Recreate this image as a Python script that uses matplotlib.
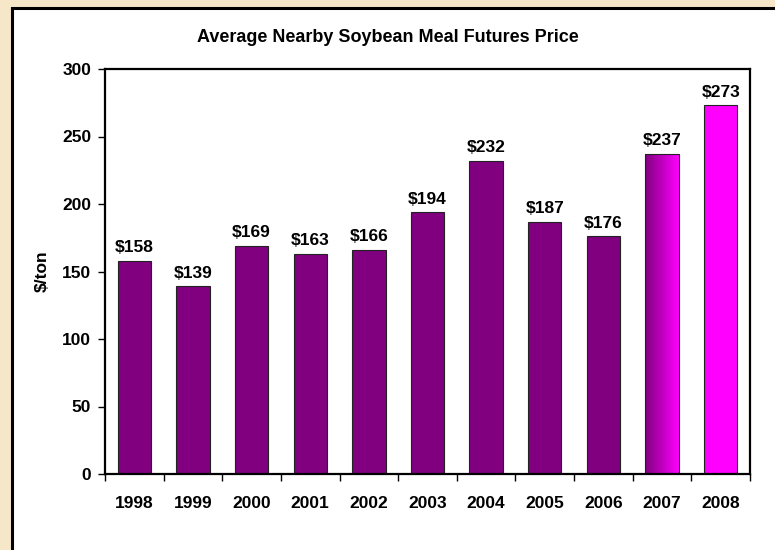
import numpy as np
import matplotlib
matplotlib.use("Agg")
import matplotlib.pyplot as plt
from matplotlib.patches import Rectangle
from matplotlib.colors import LinearSegmentedColormap

years = ["1998", "1999", "2000", "2001", "2002", "2003", "2004", "2005", "2006", "2007", "2008"]
prices = [158, 139, 169, 163, 166, 194, 232, 187, 176, 237, 273]
labels = ["$158", "$139", "$169", "$163", "$166", "$194", "$232", "$187", "$176", "$237", "$273"]

plt.rcParams["font.family"] = ["Liberation Sans", "DejaVu Sans"]
plt.rcParams["font.weight"] = "bold"

purple = "#800080"
magenta = "#FF00FF"
fs = 12.5

fig = plt.figure(figsize=(7.75, 5.5), dpi=100, facecolor="#F6E7C9")
# white panel with black frame
W, H = 775, 550
fig.patches.append(Rectangle((11.5 / W, -0.1), 1.2, 1 - 7.5 / H + 0.1,
                             transform=fig.transFigure, facecolor="white",
                             edgecolor="black", linewidth=2.2, zorder=-10))

ax = fig.add_axes([105 / W, 1 - 474 / H, 645 / W, 405 / H])
ax.set_facecolor("white")

x = np.arange(len(years))
colors = [purple] * 9 + ["none", magenta]
bars = ax.bar(x, prices, width=0.57, color=colors, edgecolor="#222222", linewidth=0.8, zorder=2)

# gradient bar for 2007
grad = LinearSegmentedColormap.from_list("g", [purple, magenta])
b = bars[9]
img = ax.imshow(np.linspace(0, 1, 256).reshape(1, -1), cmap=grad, aspect="auto",
                extent=[b.get_x(), b.get_x() + b.get_width(), 0, b.get_height()], zorder=1)
img.set_clip_path(b)

for xi, p, lab in zip(x, prices, labels):
    ax.annotate(lab, (xi, p), xytext=(0, 4), textcoords="offset points",
                ha="center", va="bottom", fontsize=fs, fontweight="bold")

ax.set_xlim(-0.5, len(years) - 0.5)
ax.set_ylim(0, 300)
ax.set_yticks(range(0, 301, 50))
ax.set_xticks(np.arange(-0.5, len(years), 1.0))
ax.set_xticklabels([])
ax.set_xticks(x, minor=True)
ax.set_xticklabels(years, minor=True)
ax.tick_params(axis="x", which="minor", length=0, pad=16, labelsize=fs)
ax.tick_params(axis="x", which="major", length=5, width=1)
ax.tick_params(axis="y", length=5, width=1, labelsize=fs, pad=5)
for s in ax.spines.values():
    s.set_linewidth(1.6)
ax.set_ylabel("$/ton", fontsize=fs, fontweight="bold", labelpad=9)
fig.text(0.5, 1 - 37 / H, "Average Nearby Soybean Meal Futures Price",
         ha="center", va="center", fontsize=13, fontweight="bold")

fig.savefig("out.png", dpi=100, facecolor=fig.get_facecolor())
